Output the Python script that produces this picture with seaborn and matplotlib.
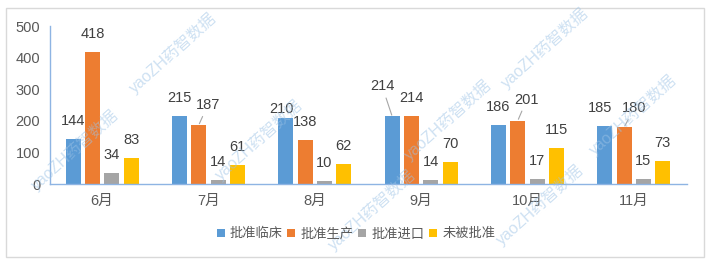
import matplotlib
matplotlib.use('Agg')
import matplotlib.pyplot as plt
import seaborn as sns
import pandas as pd
from matplotlib.patches import Rectangle

# ---- data ----
months = ['6月', '7月', '8月', '9月', '10月', '11月']
series_names = ['批准临床', '批准生产', '批准进口', '未被批准']
clinical = [144, 215, 210, 214, 186, 185]
production = [418, 187, 138, 214, 201, 180]
imported = [34, 14, 10, 14, 17, 15]
rejected = [83, 61, 62, 70, 115, 73]
yticks = [0, 100, 200, 300, 400, 500]
watermark = 'yaoZH药智数据'

colors = ['#5B9BD5', '#ED7D31', '#A5A5A5', '#FFC000']

sns.set_style('white')
plt.rcParams['font.family'] = ['Liberation Sans', 'Noto Sans CJK SC', 'DejaVu Sans']

rows = []
for name, vals in zip(series_names, [clinical, production, imported, rejected]):
    for m, v in zip(months, vals):
        rows.append({'月份': m, '类别': name, '数量': v})
df = pd.DataFrame(rows)

W, H = 710, 265
fig = plt.figure(figsize=(W / 100, H / 100), dpi=100)
ax = fig.add_axes([50 / W, 1 - 184 / H, (687 - 50) / W, (184 - 26.1) / H])

sns.barplot(data=df, x='月份', y='数量', hue='类别', order=months,
            hue_order=series_names, palette=colors, width=0.726, gap=0.22,
            linewidth=0, saturation=1, ax=ax)

ax.set_xlim(-0.49, 5.5)
ax.set_ylim(0, 500)
ax.set_yticks(yticks)
ax.set_xlabel('')
ax.set_ylabel('')
sns.despine(ax=ax)
for s in ['left', 'bottom']:
    ax.spines[s].set_color('#8EB4E3')
    ax.spines[s].set_linewidth(1)
ax.tick_params(axis='both', length=0, labelsize=10.5, colors='#595959')
ax.tick_params(axis='y', pad=7)
ax.tick_params(axis='x', pad=7)

# data labels (label placement tweaks: (dx, dy, leader line))
special = {(1, 1): (9, 20, True), (2, 0): (-4, 9, False), (3, 0): (-10, 30, True),
           (4, 1): (9, 21, True), (5, 0): (-5, 18, False), (5, 1): (10, 19, True)}
for si, cont in enumerate(ax.containers):
    for mi, bar in enumerate(cont):
        h = bar.get_height()
        xc = bar.get_x() + bar.get_width() / 2
        dx, dy, lead = special.get((mi, si), (0, 18, False))
        kw = {}
        if lead:
            kw['arrowprops'] = dict(arrowstyle='-', color='#A6A6A6', lw=0.8,
                                    shrinkA=1, shrinkB=1)
        ax.annotate(f'{int(round(h))}', xy=(xc, h), xytext=(dx, dy),
                    textcoords='offset pixels', ha='center', va='center',
                    fontsize=10.5, color='#404040', **kw)

# legend
handles, labels = ax.get_legend_handles_labels()
if ax.get_legend() is not None:
    ax.get_legend().remove()
fig.legend(handles, labels, loc='center', bbox_to_anchor=(356 / W, 1 - 234 / H),
           ncol=4, frameon=False, fontsize=9.5, handlelength=0.6, handleheight=0.6,
           handletextpad=0.4, columnspacing=0.35, labelcolor='#595959',
           borderaxespad=0, borderpad=0)

# outer border
fig.patches.append(Rectangle((6 / W, 1 - 257 / H), (704 - 6) / W, (257 - 8) / H,
                             transform=fig.transFigure, fill=False,
                             edgecolor='#D9D9D9', linewidth=1))

# watermarks
wm_pos = [(75, 150), (173, 53), (259, 140), (448, 120), (545, 48), (633, 115),
          (540, 205), (372, 210)]
for (px, py) in wm_pos:
    fig.text(px / W, 1 - py / H, watermark, rotation=42, ha='center', va='center',
             fontsize=11.5, color='#9DC3E6', alpha=0.5, rotation_mode='anchor')

fig.savefig('out.png', dpi=100)
